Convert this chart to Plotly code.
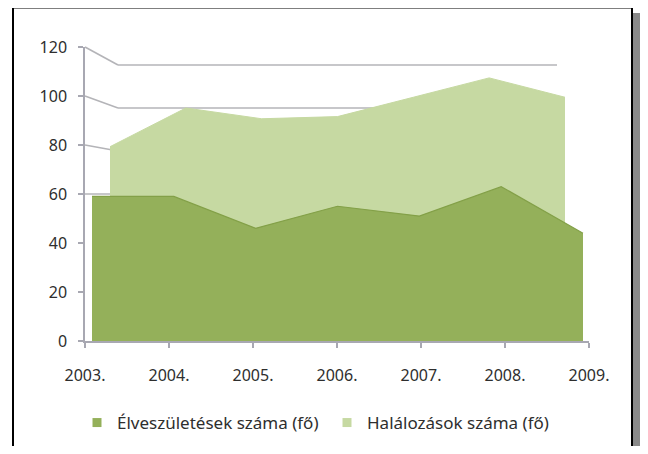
import plotly.graph_objects as go

# data
years = ["2003.", "2004.", "2005.", "2006.", "2007.", "2008.", "2009."]
births = [59, 59, 46, 55, 51, 63, 44]        # Élveszületések száma (fő) - front series
deaths = [82, 100, 95, 96, 105, 114, 105]    # Halálozások száma (fő) - back series
y_ticks = [0, 20, 40, 60, 80, 100, 120]

names = ["Élveszületések száma (fő)", "Halálozások száma (fő)"]
c_front = "#94b05a"
c_back = "#c6d9a2"
axis_col = "#a8a8b2"
wall_col = "#b4b4b8"

# the page body has an 8px margin, so the figure is smaller and
# every screen position below is shifted by that margin
PAD = 8
W, H = 648 - PAD, 454 - 2 * PAD


def fx(p):
    return (p - PAD) / W


def fy(p):
    return 1 - (p - PAD) / H


# screen pixel geometry of the fake 3d box
FRONT_L, FRONT_R, FRONT_T, FRONT_B = 85, 589, 47, 341   # front axes box
DATA_L, DATA_R = 92, 583                                # front area edges
BACK_L, BACK_R, BACK_T, BACK_B = 110, 565, 65, 323      # back series box
WALL_L, WALL_R = 118, 557                               # back wall


def front_py(v):
    return FRONT_B - (FRONT_B - FRONT_T) * v / 120


def back_py(v):
    return BACK_B - (BACK_B - BACK_T) * v / 120


unit = (DATA_R - DATA_L) / (len(years) - 1)
x3_range = [-(DATA_L - FRONT_L) / unit, len(years) - 1 + (FRONT_R - DATA_R) / unit]

fig = go.Figure()

# back series (drawn first -> behind)
fig.add_trace(go.Scatter(
    x=years, y=deaths, fill="tozeroy", mode="lines",
    line=dict(color=c_back, width=1), fillcolor=c_back,
    xaxis="x", yaxis="y", showlegend=False, hoverinfo="skip"))

# legend entries (small squares like Excel)
for n, c in zip(names, [c_front, c_back]):
    fig.add_trace(go.Scatter(
        x=[None], y=[None], mode="markers", name=n,
        marker=dict(symbol="square", size=9, color=c),
        xaxis="x2", yaxis="y2"))

# front series
fig.add_trace(go.Scatter(
    x=years, y=births, fill="tozeroy", mode="lines",
    line=dict(color="#83a048", width=1.2), fillcolor=c_front,
    xaxis="x3", yaxis="y2", showlegend=False, hoverinfo="skip"))

shapes = []
# back wall gridlines
for v in [100, 120]:
    shapes.append(dict(type="line", xref="paper", yref="paper", layer="below",
                       x0=fx(WALL_L), x1=fx(WALL_R), y0=fy(back_py(v)), y1=fy(back_py(v)),
                       line=dict(color=wall_col, width=1.6)))
# side wall gridlines
for v in [60, 80, 100, 120]:
    shapes.append(dict(type="line", xref="paper", yref="paper", layer="below",
                       x0=fx(FRONT_L), x1=fx(WALL_L), y0=fy(front_py(v)), y1=fy(back_py(v)),
                       line=dict(color=wall_col, width=1.6)))
# frame and shadow (page is cut at the body edge, so kept a bit inside)
shapes.append(dict(type="rect", xref="paper", yref="paper",
                   x0=fx(633), x1=fx(642), y0=fy(13), y1=fy(470),
                   fillcolor="#8a8a8a", line=dict(width=0)))
shapes.append(dict(type="rect", xref="paper", yref="paper",
                   x0=fx(13), x1=fx(632), y0=fy(7.5), y1=fy(470),
                   fillcolor="rgba(0,0,0,0)", line=dict(color="black", width=2)))

fig.update_layout(
    width=W, height=H,
    margin=dict(l=0, r=0, t=0, b=0, autoexpand=False),
    paper_bgcolor="white",
    plot_bgcolor="rgba(0,0,0,0)",
    font=dict(family="Noto Sans", size=16, color="#2e2e2e"),
    xaxis=dict(domain=[fx(BACK_L), fx(BACK_R)], range=[0, 6], type="category",
               visible=False, anchor="y", automargin=False),
    yaxis=dict(domain=[fy(BACK_B), fy(BACK_T)], range=[0, 120],
               visible=False, anchor="x", automargin=False),
    xaxis2=dict(domain=[fx(FRONT_L), fx(FRONT_R)], range=[0, 6], anchor="y2",
                tickmode="array", tickvals=list(range(len(years))), ticktext=years,
                showline=True, linecolor=axis_col, linewidth=1.5,
                ticks="outside", ticklen=5, tickcolor=axis_col, tickwidth=1.5,
                ticklabelstandoff=14, showgrid=False, zeroline=False, automargin=False),
    yaxis2=dict(domain=[fy(FRONT_B), fy(FRONT_T)], range=[0, 120], anchor="x2",
                tickvals=y_ticks, showline=True, linecolor=axis_col, linewidth=1.5,
                ticks="outside", ticklen=5, tickcolor=axis_col, tickwidth=1.5,
                ticklabelstandoff=8, showgrid=False, zeroline=False, automargin=False),
    xaxis3=dict(overlaying="x2", anchor="y2", range=x3_range, type="category",
                visible=False, automargin=False),
    shapes=shapes,
    showlegend=True,
    legend=dict(orientation="h", x=fx(77), xanchor="left", y=fy(423), yanchor="middle",
                font=dict(size=17, color="#2e2e2e"), bgcolor="rgba(0,0,0,0)",
                entrywidth=205, itemwidth=30),
)

fig.write_html("out.html")
